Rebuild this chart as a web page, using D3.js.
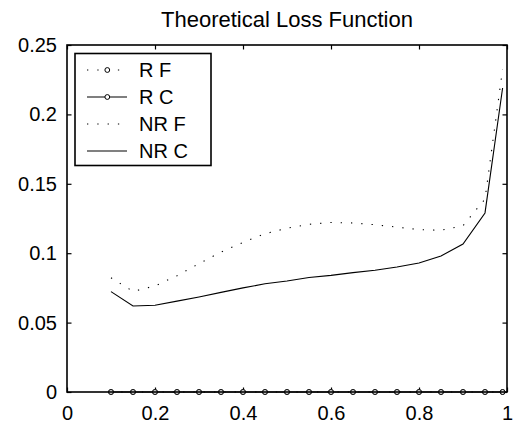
<!DOCTYPE html>
<html>
<head>
<meta charset="utf-8">
<script src="https://cdn.jsdelivr.net/npm/d3@7"></script>
<style>
body { margin: 0; background: #fff; }
svg { display: block; font-family: Arial, "Liberation Sans", sans-serif; }
</style>
</head>
<body>
<svg width="515" height="428"></svg>
<script>
// data
xVals = [0.1, 0.15, 0.2, 0.25, 0.3, 0.35, 0.4, 0.45, 0.5, 0.55, 0.6, 0.65, 0.7, 0.75, 0.8, 0.85, 0.9, 0.95, 0.99];
rF  = [0, 0, 0, 0, 0, 0, 0, 0, 0, 0, 0, 0, 0, 0, 0, 0, 0, 0, 0];
rC  = [0, 0, 0, 0, 0, 0, 0, 0, 0, 0, 0, 0, 0, 0, 0, 0, 0, 0, 0];
nrF = [0.0823, 0.0725, 0.0764, 0.0838, 0.0925, 0.1008, 0.1078, 0.114, 0.118, 0.1208, 0.1221, 0.1218, 0.1205, 0.1188, 0.117, 0.1165, 0.1198, 0.139, 0.2325];
nrC = [0.0723, 0.062, 0.0625, 0.0655, 0.0685, 0.0718, 0.075, 0.078, 0.080, 0.0825, 0.084, 0.086, 0.0877, 0.090, 0.093, 0.098, 0.1066, 0.129, 0.219];
xTicks = [0, 0.2, 0.4, 0.6, 0.8, 1];
xTickLabels = ["0", "0.2", "0.4", "0.6", "0.8", "1"];
yTicks = [0, 0.05, 0.1, 0.15, 0.2, 0.25];
yTickLabels = ["0", "0.05", "0.1", "0.15", "0.2", "0.25"];
legendNames = ["R F", "R C", "NR F", "NR C"];
titleText = "Theoretical Loss Function";

svg = d3.select("svg");
left = 67; right = 507; top_ = 45; bottom = 392;
fontSize = 20;

x = d3.scaleLinear().domain([0, 1]).range([left, right]);
y = d3.scaleLinear().domain([0, 0.25]).range([bottom, top_]);

// styles per series
styles = [
	{ data: rF,  dash: "1.3,9", marker: true,  color: "#000", w: 1 },
	{ data: rC,  dash: null,    marker: true,  color: "#000", w: 1 },
	{ data: nrF, dash: "1.3,9", marker: false, color: "#000", w: 1.1 },
	{ data: nrC, dash: null,    marker: false, color: "#000", w: 1.1 }
];

// title
svg.append("text")
	.attr("x", (left + right) / 2)
	.attr("y", 27)
	.attr("text-anchor", "middle")
	.attr("font-size", 22)
	.text(titleText);

// axes with inward ticks
function styleAxis(g) {
	g.attr("font-size", fontSize).attr("font-family", null);
	g.select(".domain").remove();
	g.selectAll(".tick line").attr("stroke", "#000").attr("stroke-width", 1.2);
	g.selectAll(".tick text").attr("fill", "#000");
}

svg.append("g")
	.attr("transform", "translate(0," + bottom + ")")
	.call(d3.axisBottom(x).tickValues(xTicks).tickSize(-4.5).tickPadding(14)
		.tickFormat(function(d, i) { return xTickLabels[i]; }))
	.call(styleAxis);
svg.append("g")
	.attr("transform", "translate(0," + top_ + ")")
	.call(d3.axisTop(x).tickValues(xTicks).tickSize(-4.5).tickFormat(""))
	.call(styleAxis);
svg.append("g")
	.attr("transform", "translate(" + left + ",0)")
	.call(d3.axisLeft(y).tickValues(yTicks).tickSize(-4.5).tickPadding(10)
		.tickFormat(function(d, i) { return yTickLabels[i]; }))
	.call(styleAxis);
svg.append("g")
	.attr("transform", "translate(" + right + ",0)")
	.call(d3.axisRight(y).tickValues(yTicks).tickSize(-4.5).tickFormat(""))
	.call(styleAxis);

// series
line = d3.line()
	.x(function(d, i) { return x(xVals[i]); })
	.y(function(d) { return y(d); });

plot = svg.append("g");
styles.forEach(function(s) {
	plot.append("path")
		.attr("d", line(s.data))
		.attr("fill", "none")
		.attr("stroke", s.color)
		.attr("stroke-width", s.w)
		.attr("stroke-dasharray", s.dash);
});

// box
svg.append("rect")
	.attr("x", left).attr("y", top_)
	.attr("width", right - left).attr("height", bottom - top_)
	.attr("fill", "none")
	.attr("stroke", "#000")
	.attr("stroke-width", 1.6);

styles.forEach(function(s) {
	if (!s.marker) return;
	plot.selectAll(null)
		.data(s.data)
		.enter().append("circle")
		.attr("cx", function(d, i) { return x(xVals[i]); })
		.attr("cy", function(d) { return y(d); })
		.attr("r", 2.4)
		.attr("fill", "#fff")
		.attr("stroke", "#000")
		.attr("stroke-width", 1);
});

// legend
legend = svg.append("g").attr("class", "legend");
legend.append("rect")
	.attr("x", 75).attr("y", 53.5)
	.attr("width", 136).attr("height", 112)
	.attr("fill", "#fff")
	.attr("stroke", "#000")
	.attr("stroke-width", 1.6);

legendNames.forEach(function(name, i) {
	s = styles[i];
	cy = 70 + i * 27;
	legend.append("line")
		.attr("x1", 87).attr("x2", 127)
		.attr("y1", cy).attr("y2", cy)
		.attr("stroke", i == 3 ? "#808080" : s.color)
		.attr("stroke-width", i == 3 ? 2 : 1.1)
		.attr("stroke-dasharray", s.dash);
	if (s.marker) {
		legend.append("circle")
			.attr("cx", 107.3).attr("cy", cy)
			.attr("r", 2.4)
			.attr("fill", "#fff")
			.attr("stroke", "#000");
	}
	legend.append("text")
		.attr("x", 139)
		.attr("y", cy + 7.3)
		.attr("font-size", fontSize)
		.text(name);
});
</script>
</body>
</html>
